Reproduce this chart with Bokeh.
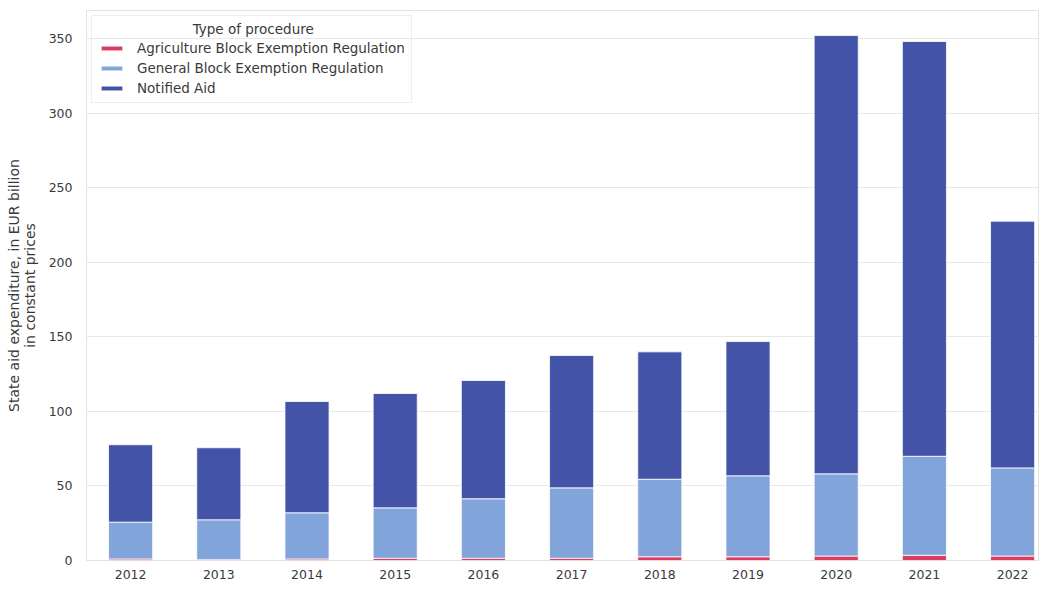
from bokeh.plotting import figure
from bokeh.models import Range1d, FixedTicker, Label, ColumnDataSource
from bokeh.embed import file_html
from bokeh.resources import INLINE

years = [2012, 2013, 2014, 2015, 2016, 2017, 2018, 2019, 2020, 2021, 2022]
year_labels = [str(y) for y in years]
agri = [1.0, 0.5, 1.0, 1.5, 1.5, 1.5, 2.5, 2.5, 3.0, 3.5, 3.0]
gber_top = [25.7, 27.3, 32.0, 35.3, 41.4, 48.7, 54.5, 56.8, 58.1, 69.9, 62.1]
total = [77.6, 75.6, 106.6, 112.0, 120.7, 137.5, 139.9, 146.8, 352.0, 348.0, 227.5]
gber = [round(g - a, 2) for g, a in zip(gber_top, agri)]
notified = [round(t - g, 2) for t, g in zip(total, gber_top)]

series = ["agri", "gber", "notified"]
series_labels = ["Agriculture Block Exemption Regulation",
                 "General Block Exemption Regulation",
                 "Notified Aid"]
colors = ["#dc3c5e", "#81a5da", "#4253a8"]
y_ticks = [0, 50, 100, 150, 200, 250, 300, 350]
font = "DejaVu Sans"

src = ColumnDataSource(dict(year=years, agri=agri, gber=gber, notified=notified))

p = figure(width=1039, height=586, output_backend="svg", toolbar_location=None,
           x_range=Range1d(2011.5, 2022.305), y_range=Range1d(0, 368.8),
           min_border_left=86, min_border_right=0, min_border_top=10,
           min_border_bottom=26, background_fill_color="white")

p.vbar_stack(series, x="year", width=0.5, source=src, color=colors,
             line_color="white", line_width=0.8, legend_label=series_labels)

p.outline_line_color = "#e2e2e2"
p.outline_line_width = 1
p.xgrid.grid_line_color = None
p.ygrid.grid_line_color = "#e8e8e8"
p.ygrid.ticker = FixedTicker(ticks=y_ticks)

p.xaxis.ticker = FixedTicker(ticks=years)
p.xaxis.major_label_overrides = {y: l for y, l in zip(years, year_labels)}
p.yaxis.ticker = FixedTicker(ticks=y_ticks)
for ax in (p.xaxis, p.yaxis):
    ax.axis_line_color = None
    ax.major_tick_line_color = None
    ax.minor_tick_line_color = None
    ax.major_tick_out = 0
    ax.major_tick_in = 0
    ax.minor_tick_out = 0
    ax.minor_tick_in = 0
    ax.major_label_text_font = font
    ax.major_label_text_font_size = "12.5px"
    ax.major_label_text_color = "#3a3a3a"
p.xaxis.major_label_standoff = 9
p.yaxis.major_label_standoff = 14

p.yaxis.axis_label = "State aid expenditure, in EUR billion\nin constant prices"
p.yaxis.axis_label_text_font = font
p.yaxis.axis_label_text_font_size = "14px"
p.yaxis.axis_label_text_font_style = "normal"
p.yaxis.axis_label_text_color = "#3a3a3a"
p.yaxis.axis_label_text_line_height = 1.0
p.yaxis.axis_label_standoff = 8

lg = p.legend[0]
lg.location = "top_left"
lg.margin = 5
lg.padding = 6
lg.spacing = 4
lg.title = " "
lg.title_text_font_size = "13.5px"
lg.title_standoff = 3
lg.label_text_font = font
lg.label_text_font_size = "13.5px"
lg.label_text_color = "#3a3a3a"
lg.label_height = 16
lg.label_standoff = 12
lg.glyph_width = 27
lg.glyph_height = 6
lg.border_line_color = "#dddddd"
lg.border_line_width = 1
lg.background_fill_alpha = 0.0

title = Label(x=2013.39, y=356.7, text="Type of procedure", text_align="center",
              text_baseline="middle", text_font=font, text_font_size="13.5px",
              text_color="#3a3a3a")
p.add_layout(title)

open("out.html", "w").write(file_html(p, INLINE))
